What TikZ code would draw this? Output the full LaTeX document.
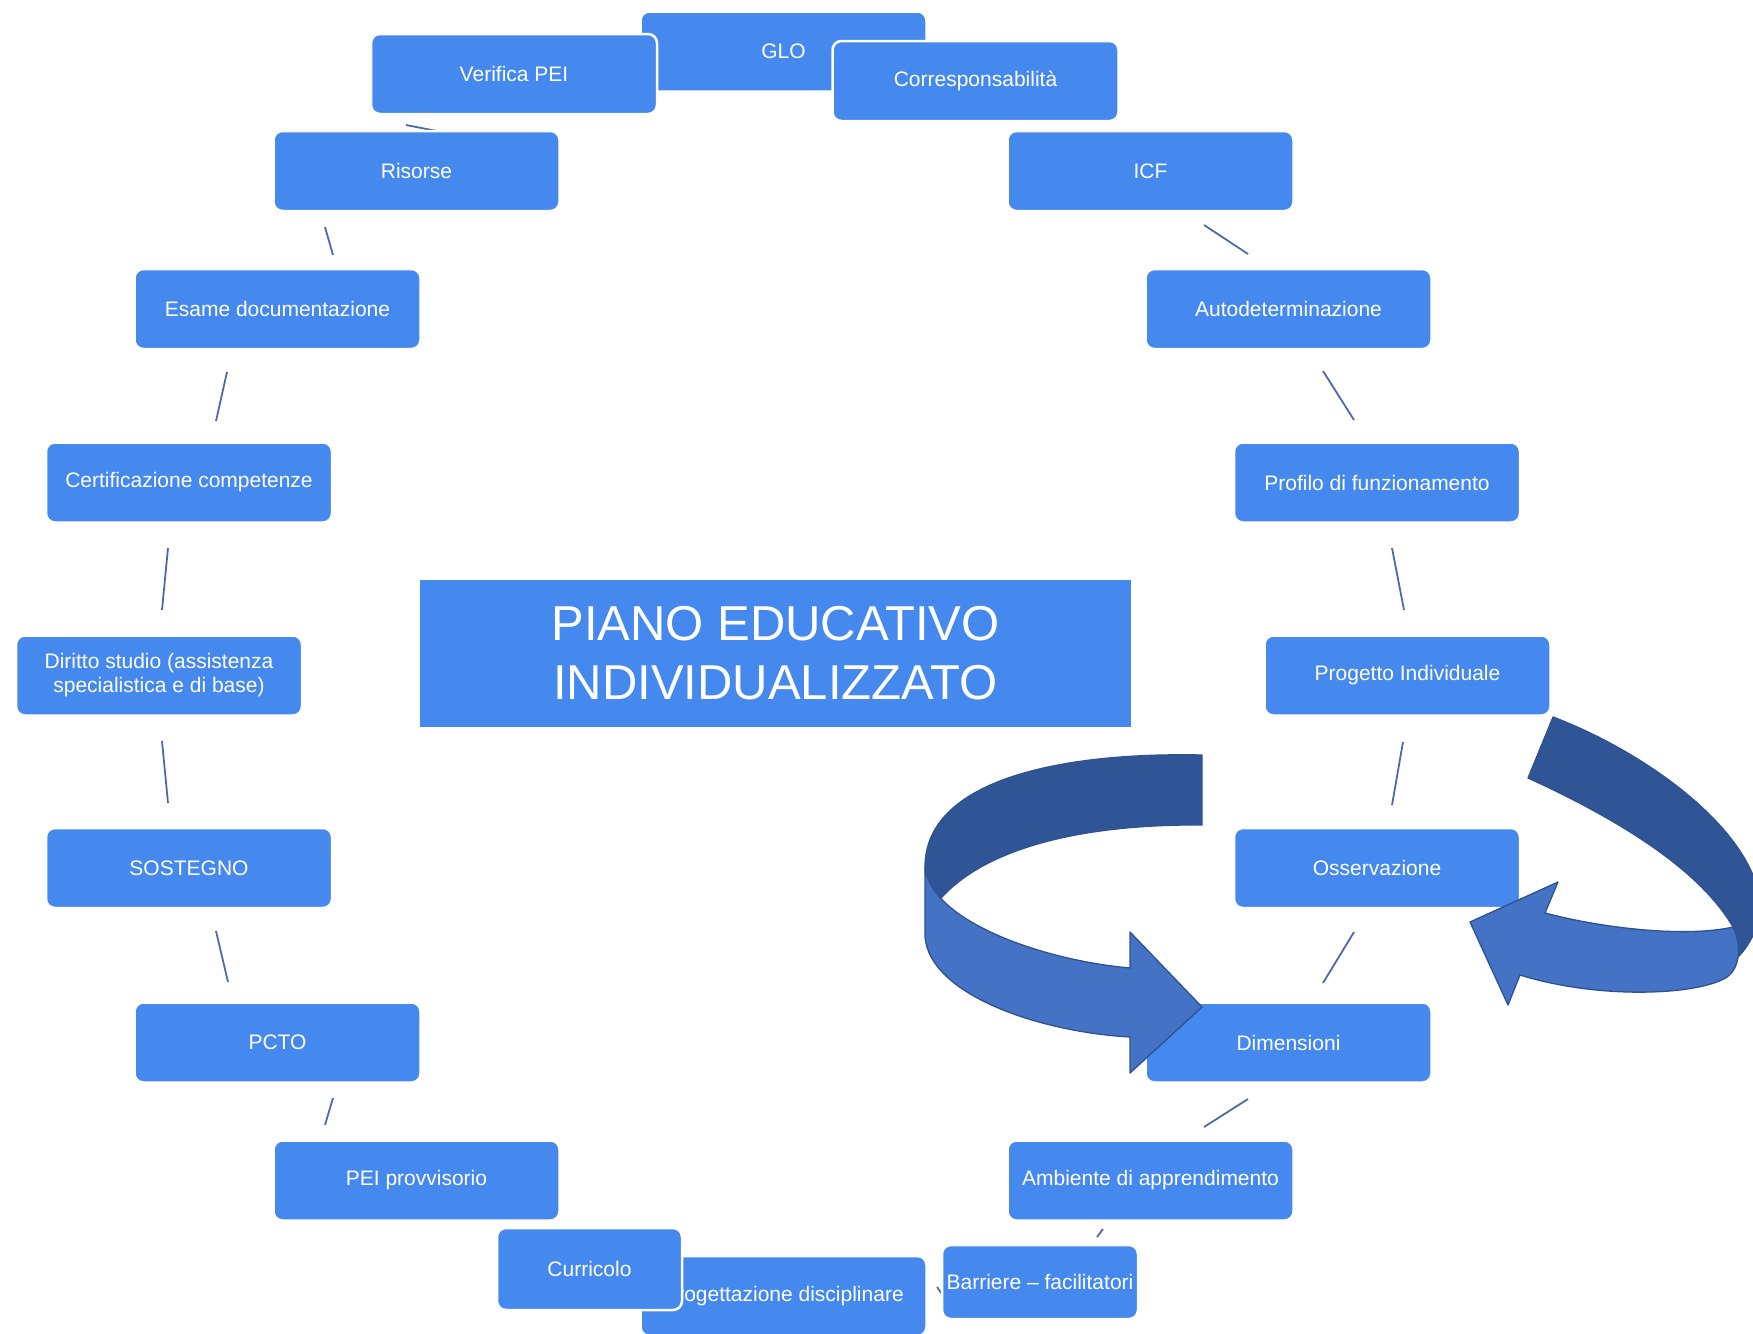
\documentclass[tikz,border=0pt]{standalone}
\usepackage{fontspec}
\setmainfont{Liberation Sans}
\usetikzlibrary{backgrounds}
\definecolor{boxblue}{RGB}{69,136,238}
\definecolor{conncol}{RGB}{80,105,165}
\definecolor{arrdark}{RGB}{47,85,151}
\definecolor{frontblue}{RGB}{68,114,196}
\definecolor{arredge}{RGB}{47,82,143}
\tikzset{
  pbox/.style={rectangle, rounded corners=9pt, fill=boxblue, draw=white, line width=2.5pt,
    text=white, font=\fontsize{21}{24}\selectfont, minimum width=286pt, minimum height=80pt,
    inner sep=0pt, align=center},
  titlebox/.style={rectangle, fill=boxblue, text=white, font=\fontsize{49}{59}\selectfont,
    minimum width=711pt, minimum height=147pt, inner sep=0pt, align=center},
  conn/.style={draw=conncol, line width=1.8pt},
  arrback/.style={fill=arrdark, draw=arredge, line width=1.3pt, line join=round},
  arrfront/.style={fill=frontblue, draw=arredge, line width=1.3pt, line join=round}
}
\begin{document}
\begin{tikzpicture}[x=1pt,y=-1pt]
\clip (0,0) rectangle (1753,1333);

% boxes, in stacking order
\node[pbox] (glo) at (783.5,51.5) {GLO};
\node[pbox] (verifica) at (514,74) {Verifica PEI};
\node[pbox] (corresp) at (975.5,81) {Corresponsabilità};
\node[pbox] (risorse) at (416.5,171) {Risorse};
\node[pbox] (icf) at (1150.5,171) {ICF};
\node[pbox] (esame) at (277.5,309) {Esame documentazione};
\node[pbox] (autodet) at (1288.5,309) {Autodeterminazione};
\node[pbox] (cert) at (189,482.5) {Certificazione competenze};
\node[pbox] (profilo) at (1377,482.5) {Profilo di funzionamento};
\node[pbox] (diritto) at (159,675.5) {Diritto studio (assistenza\\specialistica e di base)};
\node[pbox] (progetto) at (1407.5,675.5) {Progetto Individuale};
\node[pbox] (sostegno) at (189,868) {SOSTEGNO};
\node[pbox] (osserv) at (1377,868) {Osservazione};
\node[pbox] (pcto) at (277.5,1042.5) {PCTO};
\node[pbox] (dimens) at (1288.5,1042.5) {Dimensioni};
\node[pbox] (peiprov) at (416.5,1180.5) {PEI provvisorio};
\node[pbox] (ambiente) at (1150.5,1180.5) {Ambiente di apprendimento};
\node[pbox] (progett) at (783.5,1296) {Progettazione disciplinare};
\node[pbox, minimum width=185pt, minimum height=82pt] (curricolo) at (589.5,1269) {Curricolo};
\node[pbox, minimum width=196pt, minimum height=74pt] (barriere) at (1040,1282) {Barriere – facilitatori};

\node[titlebox] (titolo) at (775.5,653.5) {PIANO EDUCATIVO\\INDIVIDUALIZZATO};

% connectors behind the boxes
\begin{scope}[on background layer]
\fill[white] (0,0) rectangle (1753,1333);
\draw[conn] (verifica) ++(-108,51) -- ++(41,8);
\draw[conn] (risorse) ++(-91.5,56) -- ++(8,28);
\draw[conn] (esame) ++(-50.5,63) -- ++(-11,49);
\draw[conn] (cert) ++(-21,65.5) -- ++(-6,62);
\draw[conn] (diritto) ++(3,65.5) -- ++(6,62);
\draw[conn] (sostegno) ++(27,63) -- ++(12,51);
\draw[conn] (pcto) ++(55.5,55.5) -- ++(-8,27);
\draw[conn] (icf) ++(53.5,54) -- ++(44,29);
\draw[conn] (autodet) ++(34.5,62) -- ++(31,49);
\draw[conn] (profilo) ++(15,65.5) -- ++(12,62);
\draw[conn] (progetto) ++(-4.5,66.5) -- ++(-11,63);
\draw[conn] (osserv) ++(-23,64) -- ++(-31,51);
\draw[conn] (dimens) ++(-40.5,56.5) -- ++(-44,28);
\draw[conn] (ambiente) ++(-47.5,48.5) -- ++(-6,8);
\draw[conn] (barriere) ++(-103,5) -- ++(7,10);
\end{scope}

% left curved arrow
\path[arrback] (1202,755) .. controls (1060,752) and (925,780) .. (925,867)
  -- (928,915) -- (942,897) .. controls (990,845) and (1090,824) .. (1202,825) -- cycle;
\path[arrfront] (925,867) .. controls (930,920) and (1040,960) .. (1130,968)
  -- (1130,932) -- (1202,1007) -- (1130,1073) -- (1130,1037)
  .. controls (1040,1032) and (930,995) .. (925,937) -- cycle;

% right curved arrow
\path[arrback] (1553,717) .. controls (1640,750) and (1740,820) .. (1758,890)
  .. controls (1765,920) and (1750,945) .. (1738,957) -- (1720,955) -- (1733,927)
  .. controls (1700,870) and (1620,820) .. (1528,778) -- cycle;
\path[arrfront] (1545,913) .. controls (1610,930) and (1690,937) .. (1733,927)
  .. controls (1742,945) and (1740,968) .. (1727,977)
  .. controls (1700,995) and (1600,1000) .. (1520,975)
  -- (1508,1005) -- (1470,922) -- (1558,882) -- cycle;
\end{tikzpicture}
\end{document}
